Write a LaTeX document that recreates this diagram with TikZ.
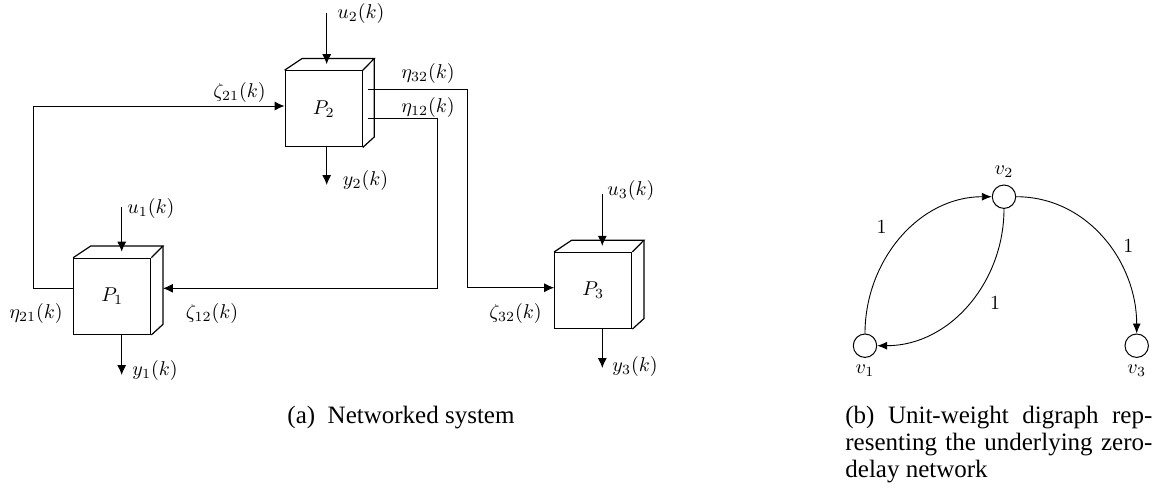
\documentclass[tikz,border=0pt]{standalone}
\usepackage{amsmath}
\usepackage{fontspec}
\newfontfamily\capfont{Liberation Serif}
\usetikzlibrary{arrows.meta,calc}
\tikzstyle{plant}=[draw,line width=0.6pt,minimum width=38.5pt,minimum height=38pt,inner sep=0pt]
\tikzstyle{wire}=[draw,line width=0.6pt]
\tikzstyle{signal}=[draw,line width=0.5pt,-{Latex[length=5pt,width=4.5pt]}]
\tikzstyle{vertex}=[circle,draw,line width=0.5pt,minimum size=11.7pt,inner sep=0pt]
\tikzstyle{edge}=[draw,line width=0.45pt,-{Latex[length=5pt,width=4pt]}]
\tikzstyle{caption}=[font=\capfont\fontsize{12.5}{13.5}\selectfont,inner sep=0pt]
% top and side face of a plant box
\newcommand{\cubeface}[1]{%
  \draw[wire] (#1.north west) -- ++(17.5,-11.7) -- ($(#1.north east)+(11.5,-11.7)$) -- (#1.north east);
  \draw[wire] ($(#1.north east)+(11.5,-11.7)$) -- ($(#1.south east)+(11.5,-10.5)$) -- (#1.south east);
}
\begin{document}
\begin{tikzpicture}[x=0.5pt,y=-0.5pt]
    \useasboundingbox (0,0) rectangle (1169,488);
    % (a) the three plants
    \foreach \pos/\name in {{(112.3,296.3)/P1},{(323.7,108.8)/P2},{(593.3,290.5)/P3}}
        \node[plant] (\name) at \pos {};
    \node at (P1) {$P_1$};
    \node at (P2) {$P_2$};
    \node at (P3) {$P_3$};
    \cubeface{P1}
    \cubeface{P2}
    \cubeface{P3}

    % inputs and outputs
    \foreach \p/\x/\u/\y in {P1/121.7/206.7/375, P2/326.7/13/185, P3/602.3/194/368}{
        \coordinate (\p in) at (\x,\u);
        \coordinate (\p out) at (\x,\y);
        \draw[signal] (\p in) -- ($(\p in |- \p.north)+(0,-6)$);
        \draw[signal] (\p in |- \p.south) -- (\p out);
    }

    % couplings between the plants
    \coordinate (c21) at (33.3,106);
    \coordinate (c12) at (437.3,288.3);
    \coordinate (c32) at (467.3,287.7);
    \draw[signal] (P1.west |- 0,288.3) -| (c21) -- (P2.west |- c21);
    \draw[signal] ($(P2.east |- 0,118)+(5,0)$) -| (c12) -- ($(P1.east |- c12)+(11.5,0)$);
    \draw[signal] ($(P2.east |- 0,89.3)+(5,0)$) -| (c32) -- (P3.west |- c32);

    % labels
    \node (lu1) at (151,208) {$u_1(k)$};
    \node (lu2) at (361,13) {$u_2(k)$};
    \node (lu3) at (631,190) {$u_3(k)$};
    \node (ly1) at (155,370) {$y_1(k)$};
    \node (ly2) at (365.5,180) {$y_2(k)$};
    \node (ly3) at (635,366.7) {$y_3(k)$};
    \node (le32) at (428,73) {$\eta_{32}(k)$};
    \node (le12) at (428,107) {$\eta_{12}(k)$};
    \node (le21) at (36,313) {$\eta_{21}(k)$};
    \node (lz21) at (239.5,92) {$\zeta_{21}(k)$};
    \node (lz12) at (212,313) {$\zeta_{12}(k)$};
    \node (lz32) at (515.5,313) {$\zeta_{32}(k)$};

    % (b) the digraph
    \foreach \pos/\name in {{(865,345.7)/v1},{(1004,196.7)/v2},{(1136.7,345.7)/v3}}
        \node[vertex] (\name) at \pos {};
    \node (lv1) at (865,371) {$v_1$};
    \node (lv2) at (1004,172) {$v_2$};
    \node (lv3) at (1136.7,371) {$v_3$};
    \path[edge] (v1.north) to[out=90,in=180] (v2.west);
    \path[edge] (v2.south) to[out=-90,in=0] (v1.east);
    \path[edge] (v2.east) to[out=0,in=90] (v3.north);
    \node (w12) at (881.7,226.7) {$1$};
    \node (w21) at (995,302.7) {$1$};
    \node (w23) at (1128.3,246) {$1$};

    % captions
    \node[caption,anchor=base] (capa) at (401,423) {(a)~~Networked system};
    \node[caption,anchor=base west] (capb1) at (845,423) {\makebox[153.5pt][s]{(b) Unit-weight digraph rep-}};
    \node[caption,anchor=base west] (capb2) at (845,450) {\makebox[153.5pt][s]{resenting the underlying zero-}};
    \node[caption,anchor=base west] (capb3) at (845,477) {delay network};
\end{tikzpicture}
\end{document}
